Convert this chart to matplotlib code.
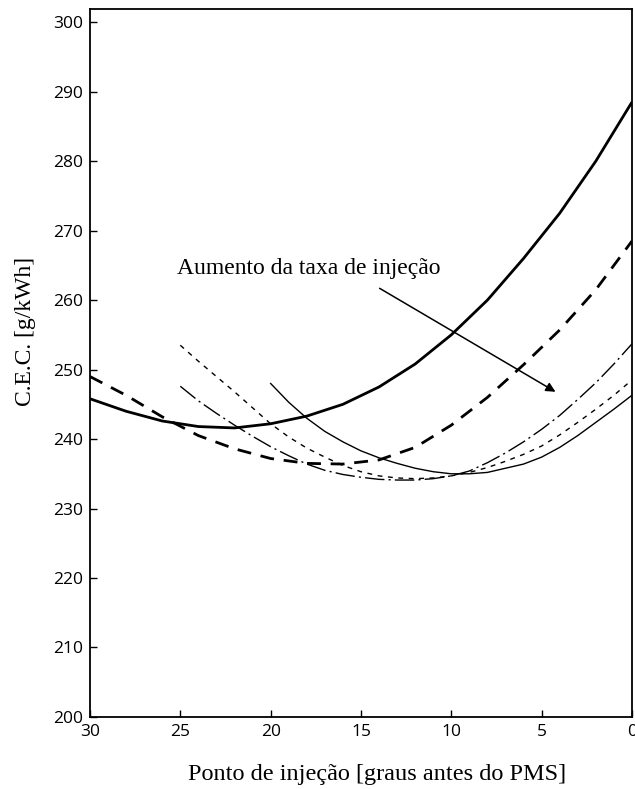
import matplotlib
matplotlib.use("Agg")
import matplotlib.pyplot as plt

# pontos (graus antes do PMS, C.E.C. em g/kWh)
x_a = [30, 28, 26, 24, 22, 20, 18, 16, 14, 12, 10, 8, 6, 4, 2, 0]
y_a = [245.8, 244.0, 242.6, 241.8, 241.6, 242.2, 243.3, 245.0, 247.5, 250.8,
       255.0, 260.0, 266.0, 272.5, 280.0, 288.5]

x_b = [30, 28, 26, 24, 22, 20, 18, 16, 14, 12, 10, 8, 6, 4, 2, 0]
y_b = [249.0, 246.3, 243.2, 240.5, 238.6, 237.2, 236.5, 236.4, 237.0, 238.8,
       242.0, 246.0, 250.7, 255.7, 261.5, 268.5]

x_c = [25, 24, 23, 22, 21, 20, 19, 18, 17, 16, 15, 14, 13, 12, 11, 10, 9, 8,
       7, 6, 5, 4, 3, 2, 1, 0]
y_c = [253.5, 251.2, 249.0, 246.8, 244.5, 242.2, 240.3, 238.7, 237.4, 236.2,
       235.3, 234.7, 234.4, 234.3, 234.4, 234.7, 235.2, 235.9, 236.8, 237.8,
       239.0, 240.6, 242.4, 244.3, 246.3, 248.5]

x_d = [25, 24, 23, 22, 21, 20, 19, 18, 17, 16, 15, 14, 13, 12, 11, 10, 9, 8,
       7, 6, 5, 4, 3, 2, 1, 0]
y_d = [247.6, 245.5, 243.7, 242.0, 240.4, 238.9, 237.6, 236.4, 235.5, 234.9,
       234.5, 234.2, 234.1, 234.1, 234.3, 234.7, 235.4, 236.6, 238.0, 239.6,
       241.4, 243.4, 245.7, 248.1, 250.8, 253.7]

x_e = [20, 19, 18, 17, 16, 15, 14, 13, 12, 11, 10, 9, 8, 7, 6, 5, 4, 3, 2, 1, 0]
y_e = [248.0, 245.3, 243.0, 241.1, 239.6, 238.3, 237.3, 236.5, 235.8, 235.3,
       235.0, 235.0, 235.2, 235.8, 236.4, 237.4, 238.8, 240.5, 242.4, 244.3,
       246.3]

x_ticks = [30, 25, 20, 15, 10, 5, 0]
y_ticks = [200, 210, 220, 230, 240, 250, 260, 270, 280, 290, 300]

serif = ["Liberation Serif", "DejaVu Serif"]

fig = plt.figure(figsize=(6.35, 7.89), dpi=100)
ax = fig.add_axes([0.1417, 0.0913, 0.8535, 0.8973])

ax.plot(x_a, y_a, color="black", lw=2.0, solid_capstyle="butt")
ax.plot(x_b, y_b, color="black", lw=2.0, dashes=(5, 3.5))
ax.plot(x_c, y_c, color="black", lw=1.0, dashes=(3.5, 4))
ax.plot(x_d, y_d, color="black", lw=1.0, dashes=(14, 3, 1.5, 3))
ax.plot(x_e, y_e, color="black", lw=1.0)

# seta e texto
ax.annotate("", xy=(4.1, 246.6), xytext=(14.1, 261.9),
            arrowprops=dict(arrowstyle="-|>", color="black", lw=1.1,
                            mutation_scale=14))
ax.text(25.2, 264.6, "Aumento da taxa de injeção", family=serif,
        fontsize=17, ha="left", va="center")

ax.set_xlim(30, 0)
ax.set_ylim(200, 301.9)
ax.set_xticks(x_ticks)
ax.set_yticks(y_ticks)
ax.tick_params(direction="in", length=5, width=1, top=False, right=False,
               labelsize=12.5, pad=5)
for lab in ax.get_xticklabels() + ax.get_yticklabels():
    lab.set_family(["Open Sans", "DejaVu Sans"])
for sp in ax.spines.values():
    sp.set_linewidth(1.3)

ax.set_xlabel("Ponto de injeção [graus antes do PMS]", family=serif,
              fontsize=17.5)
ax.xaxis.set_label_coords(0.53, -0.066)
ax.set_ylabel("C.E.C. [g/kWh]", family=serif, fontsize=17)
ax.yaxis.set_label_coords(-0.10, 0.544)

fig.savefig("out.png", dpi=100)
